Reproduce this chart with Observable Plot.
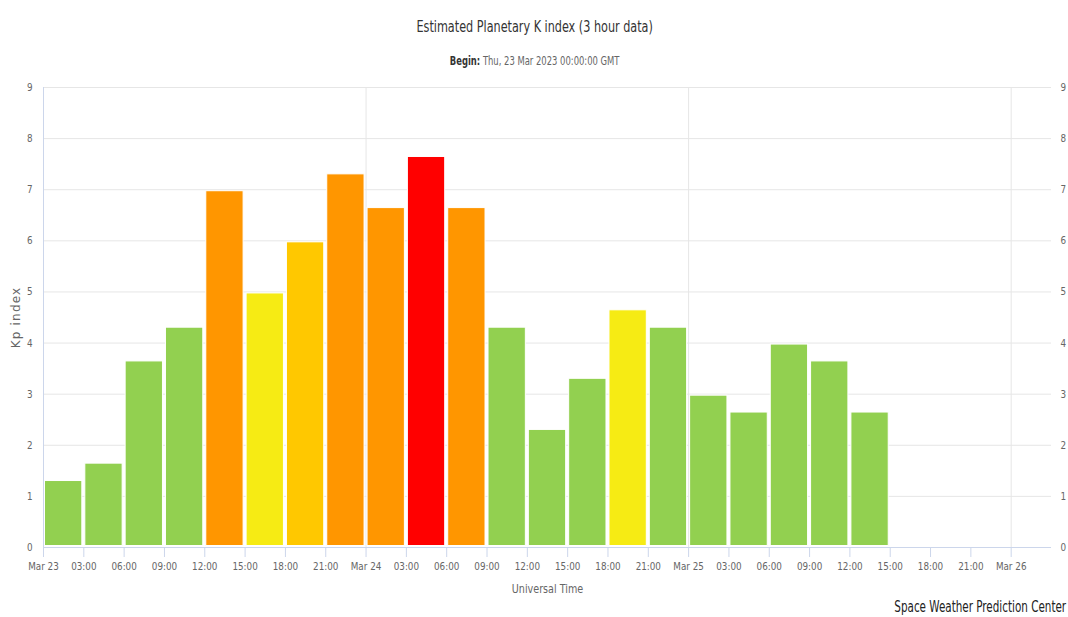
<!DOCTYPE html>
<html>
<head>
<meta charset="utf-8">
<script src="https://cdn.jsdelivr.net/npm/d3@7"></script>
<script src="https://cdn.jsdelivr.net/npm/@observablehq/plot@0.6"></script>
<style>
  html, body { margin: 0; padding: 0; background: #fff; }
  #wrap { position: relative; width: 1068px; height: 617px; overflow: hidden; }
  .cond { font-family: "Liberation Sans Narrow", "DejaVu Sans Condensed", "DejaVu Sans", sans-serif; }
  #title { position: absolute; left: 0; width: 1068px; top: 17px; text-align: center; font-size: 16px; color: #333; transform: scaleX(0.78); transform-origin: 537px 0; }
  #subtitle { position: absolute; left: 0; width: 1068px; top: 54px; text-align: center; font-size: 12px; color: #666; transform: scaleX(0.78); transform-origin: 537px 0; }
  #subtitle b { color: #333; }
  #credit { position: absolute; right: 2px; top: 598px; font-size: 15px; color: #222; transform: scaleX(0.77); transform-origin: 100% 0; }
  #chart { position: absolute; left: 0; top: 0; }
  g.kplab text { letter-spacing: 1.2px; }
</style>
</head>
<body>
<div id="wrap">
  <div id="chart"></div>
  <div id="title" class="cond">Estimated Planetary K index (3 hour data)</div>
  <div id="subtitle" class="cond"><b>Begin:</b> Thu, 23 Mar 2023 00:00:00 GMT</div>
  <div id="credit" class="cond">Space Weather Prediction Center</div>
</div>
<script>
// ---- data ----
const startTimes = [
  "2023-03-23T00:00Z","2023-03-23T03:00Z","2023-03-23T06:00Z","2023-03-23T09:00Z",
  "2023-03-23T12:00Z","2023-03-23T15:00Z","2023-03-23T18:00Z","2023-03-23T21:00Z",
  "2023-03-24T00:00Z","2023-03-24T03:00Z","2023-03-24T06:00Z","2023-03-24T09:00Z",
  "2023-03-24T12:00Z","2023-03-24T15:00Z","2023-03-24T18:00Z","2023-03-24T21:00Z",
  "2023-03-25T00:00Z","2023-03-25T03:00Z","2023-03-25T06:00Z","2023-03-25T09:00Z",
  "2023-03-25T12:00Z"
];
const kpValues = [
  1.33, 1.67, 3.67, 4.33,
  7.00, 5.00, 6.00, 7.33,
  6.67, 7.67, 6.67, 4.33,
  2.33, 3.33, 4.67, 4.33,
  3.00, 2.67, 4.00, 3.67,
  2.67
];
const xTickTimes = [
  "2023-03-23T00:00Z","2023-03-23T03:00Z","2023-03-23T06:00Z","2023-03-23T09:00Z",
  "2023-03-23T12:00Z","2023-03-23T15:00Z","2023-03-23T18:00Z","2023-03-23T21:00Z",
  "2023-03-24T00:00Z","2023-03-24T03:00Z","2023-03-24T06:00Z","2023-03-24T09:00Z",
  "2023-03-24T12:00Z","2023-03-24T15:00Z","2023-03-24T18:00Z","2023-03-24T21:00Z",
  "2023-03-25T00:00Z","2023-03-25T03:00Z","2023-03-25T06:00Z","2023-03-25T09:00Z",
  "2023-03-25T12:00Z","2023-03-25T15:00Z","2023-03-25T18:00Z","2023-03-25T21:00Z",
  "2023-03-26T00:00Z"
];
const dayGridTimes = ["2023-03-24T00:00Z","2023-03-25T00:00Z","2023-03-26T00:00Z"];
const yTicks = [0,1,2,3,4,5,6,7,8,9];
const xDomain = ["2023-03-23T00:00Z","2023-03-26T03:00Z"];
const colorThresholds = [4.5, 5.5, 6.5, 7.5];
const colorRange = ["#92d050", "#f6eb14", "#ffc800", "#ff9600", "#ff0000"];
const barHours = 3;

// ---- build ----
const bars = startTimes.map((t, i) => {
  const s = new Date(t);
  return { start: s, end: new Date(+s + barHours * 3600e3), kp: kpValues[i] };
});
const xt = xTickTimes.map(d => new Date(d));
const dg = dayGridTimes.map(d => new Date(d));
const mon = d3.utcFormat("%b %d");
const hm = d3.utcFormat("%H:%M");
const fmtX = d => (d.getUTCHours() === 0 ? mon(d).replace(/ 0/, " ") : hm(d));
const fam = '"DejaVu Sans", sans-serif';

const plot = Plot.plot({
  width: 1068,
  height: 617,
  marginLeft: 43,
  marginRight: 17,
  marginTop: 87,
  marginBottom: 70,
  style: { fontFamily: fam, fontSize: "11px", color: "#666", background: "transparent" },
  x: { type: "utc", domain: xDomain.map(d => new Date(d)) },
  y: { domain: [0, 9] },
  color: { type: "threshold", domain: colorThresholds, range: colorRange },
  marks: [
    Plot.ruleY(yTicks.slice(1), { stroke: "#e6e6e6", strokeWidth: 1 }),
    Plot.ruleX(dg, { stroke: "#e6e6e6", strokeWidth: 1 }),
    Plot.rectY(bars, { x1: "start", x2: "end", y1: 0, y2: "kp", fill: d => d.kp, inset: 1.5, stroke: "#fff", strokeWidth: 1 }),
    Plot.ruleX([xDomain[0]].map(d => new Date(d)), { stroke: "#ccd6eb", strokeWidth: 1 }),
    Plot.ruleY([0], { stroke: "#ccd6eb", strokeWidth: 1 }),
    Plot.axisX(xt, { tickFormat: fmtX, tickSize: 10, tickPadding: 5, stroke: "#ccd6eb", fill: "#666", label: null, fontSize: 11, className: "sq" }),
    Plot.axisY(yTicks, { anchor: "left", tickSize: 0, tickPadding: 11, tickFormat: "d", label: null, fill: "#666", fontSize: 11, className: "sq" }),
    Plot.axisY(yTicks, { anchor: "right", tickSize: 0, tickPadding: 9, tickFormat: "d", label: null, fill: "#666", fontSize: 11, className: "sq" }),
    Plot.text(["Universal Time"], { frameAnchor: "bottom", dy: 45, fill: "#666", fontSize: 12, className: "sq" }),
    Plot.text(["Kp index"], { frameAnchor: "left", textAnchor: "middle", dx: -27, rotate: -90, fill: "#666", fontSize: 12, className: "kplab" })
  ]
});
// condense the narrow-font texts in place (no condensed face installed)
plot.querySelectorAll("g[class*='sq'] text").forEach(t => {
  const tr = t.getAttribute("transform");
  if (tr) t.setAttribute("transform", tr + " scale(0.8,1)");
});
document.getElementById("chart").appendChild(plot);
</script>
</body>
</html>
